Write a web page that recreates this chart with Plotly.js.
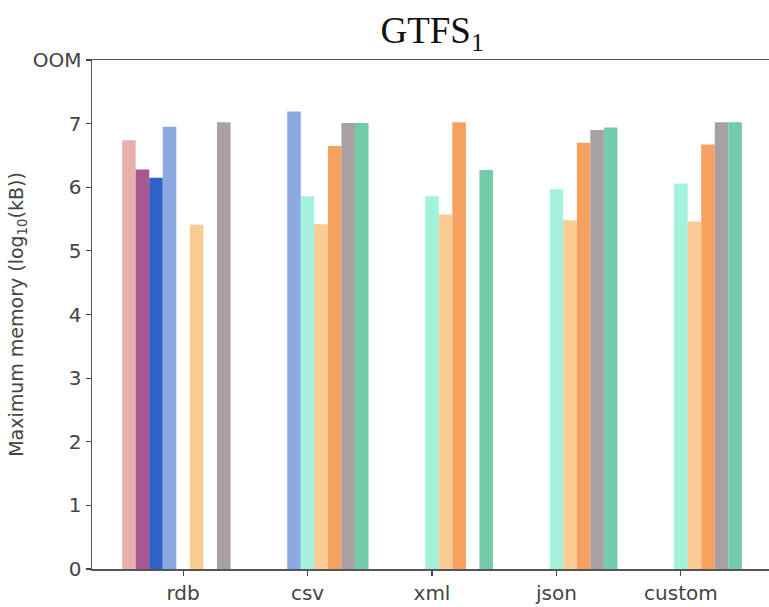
<!DOCTYPE html>
<html>
<head>
<meta charset="utf-8">
<script src="https://cdn.plot.ly/plotly-3.0.1.min.js"></script>
<style>html,body{margin:0;padding:0;background:#fff;}#chart{width:769px;height:607px;}</style>
</head>
<body>
<div id="chart"></div>
<script>
const categories = ["rdb", "csv", "xml", "json", "custom"];
const seriesNames = ["s1", "s2", "s3", "s4", "s5", "s6", "s7", "s8", "s9"];
const seriesColors = ["#eab0b0", "#a8588e", "#2e62c9", "#8caae2", "#a2f2dc", "#f9cc94", "#f5a160", "#a8a0a3", "#72cca9"];
const s1 = [6.74, null, null, null, null];
const s2 = [6.28, null, null, null, null];
const s3 = [6.15, null, null, null, null];
const s4 = [6.95, 7.19, null, null, null];
const s5 = [null, 5.86, 5.86, 5.97, 6.06];
const s6 = [5.41, 5.42, 5.57, 5.48, 5.46];
const s7 = [null, 6.65, 7.02, 6.70, 6.67];
const s8 = [7.02, 7.01, null, 6.90, 7.02];
const s9 = [null, 7.01, 6.27, 6.94, 7.02];
const seriesValues = [s1, s2, s3, s4, s5, s6, s7, s8, s9];
const yTickVals = [0, 1, 2, 3, 4, 5, 6, 7, 8];
const yTickText = ["0", "1", "2", "3", "4", "5", "6", "7", "OOM"];

const traces = seriesValues.map((vals, i) => ({
  type: "bar",
  name: seriesNames[i],
  x: categories,
  y: vals,
  marker: {color: seriesColors[i], line: {width: 0}},
  showlegend: false,
  hoverinfo: "y"
}));

const layout = {
  width: 769,
  height: 607,
  margin: {l: 92, r: 0, t: 60, b: 38},
  paper_bgcolor: "#ffffff",
  plot_bgcolor: "#ffffff",
  barmode: "group",
  bargap: 0.02,
  bargroupgap: 0,
  title: {
    text: "GTFS<sub>1</sub>",
    font: {family: "Liberation Serif, DejaVu Serif, serif", size: 37, color: "#111"},
    x: 0.562, xanchor: "center",
    y: 0.95, yanchor: "middle"
  },
  xaxis: {
    type: "category",
    range: [-0.732, 4.708],
    showline: true, linecolor: "#555", linewidth: 1.5,
    mirror: true,
    ticks: "outside", ticklen: 5, tickcolor: "#444", tickwidth: 1.2,
    showgrid: false, zeroline: false,
    tickfont: {family: "DejaVu Sans, sans-serif", size: 20, color: "#444"}
  },
  yaxis: {
    range: [0, 8],
    tickvals: yTickVals,
    ticktext: yTickText,
    showline: true, linecolor: "#555", linewidth: 1.5,
    ticks: "outside", ticklen: 5, tickcolor: "#444", tickwidth: 1.2,
    showgrid: false, zeroline: false,
    tickfont: {family: "DejaVu Sans, sans-serif", size: 20, color: "#444"},
    title: {
      text: "Maximum memory (log<sub>10</sub>(kB))",
      font: {family: "DejaVu Sans, sans-serif", size: 19, color: "#444"},
      standoff: 4
    }
  }
};

Plotly.newPlot("chart", traces, layout, {displayModeBar: false, staticPlot: true});
</script>
</body>
</html>
